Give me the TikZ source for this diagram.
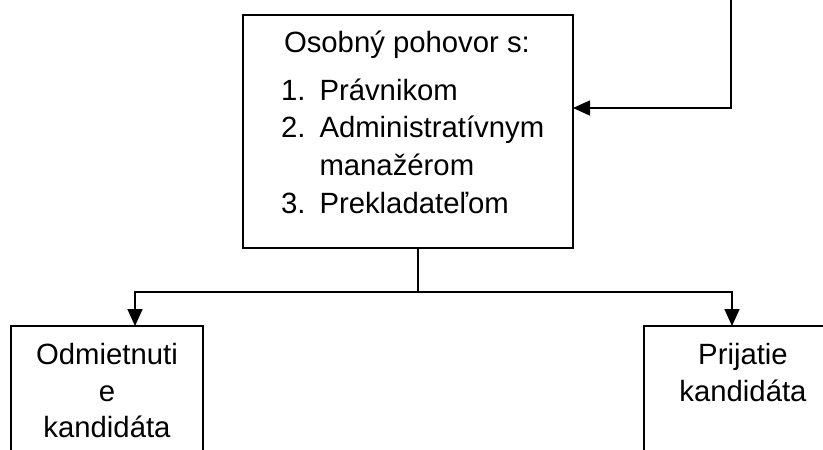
\documentclass[tikz,border=0pt]{standalone}
\usepackage{fontspec}
\setmainfont{Liberation Sans}
\usetikzlibrary{arrows.meta}
\begin{document}
\begin{tikzpicture}[x=1pt,y=-1pt,
  every node/.style={inner sep=0pt, outer sep=0pt},
  frame/.style={draw, rectangle, line width=1.7pt},
  txt/.style={font=\fontsize{29.3}{35}\selectfont},
  link/.style={line width=1.7pt},
  arr/.style={link, -{Triangle[length=17pt,width=15pt]}}]
\useasboundingbox (0,0) rectangle (823,450);
\clip (0,0) rectangle (823,450);

% interview box
\node[frame, minimum width=330pt, minimum height=233pt] (talk) at (408,131.5) {};
\node[txt, anchor=base west] (title) at (284,52.5) {Osobný pohovor s:};
\node[txt, anchor=base west] (n1) at (281,100) {1.};
\node[txt, anchor=base west] (i1) at (319.5,100) {Právnikom};
\node[txt, anchor=base west] (n2) at (281,137.5) {2.};
\node[txt, anchor=base west] (i2) at (319.5,137.5) {Administratívnym};
\node[txt, anchor=base west] (i2b) at (319.5,175.5) {manažérom};
\node[txt, anchor=base west] (n3) at (281,213) {3.};
\node[txt, anchor=base west] (i3) at (319.5,213) {Prekladateľom};

% outcome boxes
\node[frame, minimum width=192pt, minimum height=150pt] (reject) at (107,401) {};
\node[txt, anchor=base] (r1) at (107,364) {Odmietnuti};
\node[txt, anchor=base] (r2) at (107,401) {e};
\node[txt, anchor=base] (r3) at (107,437) {kandidáta};

\node[frame, minimum width=198pt, minimum height=150pt] (accept) at (743,401) {};
\node[txt, anchor=base] (a1) at (743,364.5) {Prijatie};
\node[txt, anchor=base] (a2) at (743,401.5) {kandidáta};

% connectors
\coordinate (feed) at (731,-10);
\draw[arr] (feed) |- ([yshift=23.5pt]talk.east);
\draw[link] ([xshift=10pt]talk.south) -- ++(0,44) coordinate (split);
\draw[arr] (split) -| ([xshift=28pt]reject.north);
\draw[arr] (split) -| ([xshift=-11pt]accept.north);
\end{tikzpicture}
\end{document}
